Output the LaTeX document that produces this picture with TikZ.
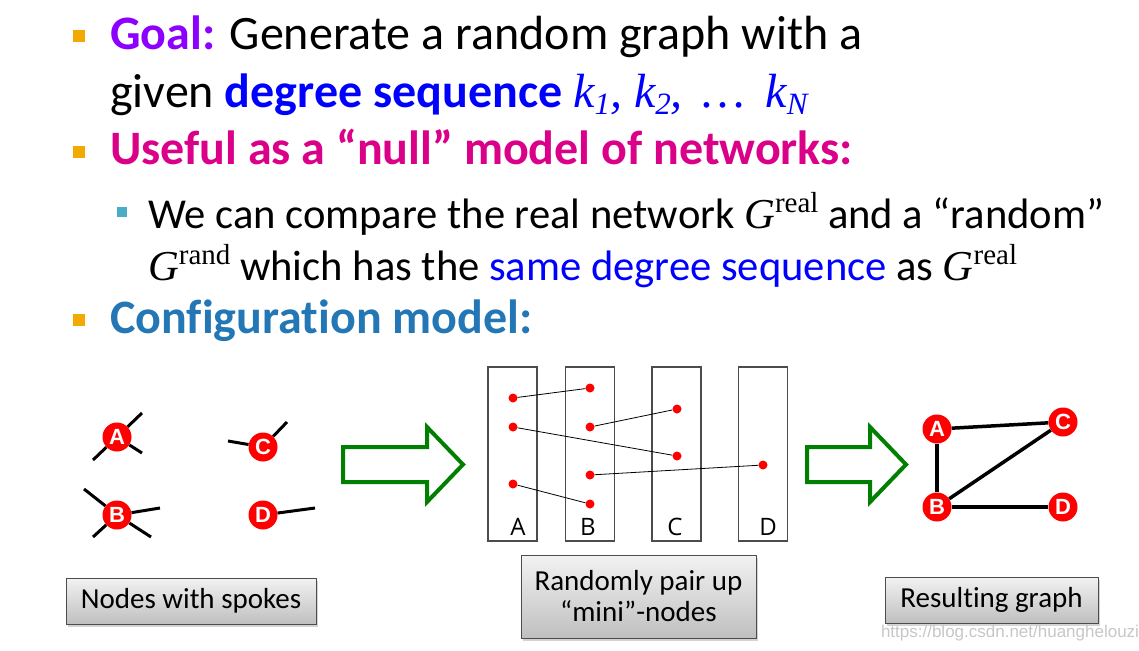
\documentclass[tikz,border=0pt]{standalone}
\usepackage{fontspec}
\setmainfont{Carlito}[Ligatures=NoCommon]
\newfontfamily\serifk{Liberation Serif}
\newfontfamily\slotfont{Open Sans}
\newfontfamily\letterfont{Liberation Sans}
\usepackage{tikz}
\usetikzlibrary{shadows}
\definecolor{goalpurple}{HTML}{8B00FF}
\definecolor{nullmagenta}{HTML}{DA0088}
\definecolor{confblue}{HTML}{2477B5}
\definecolor{seqblue}{HTML}{0000FF}
\definecolor{bulletorange}{HTML}{F2A900}
\definecolor{bulletteal}{HTML}{4BACC6}
\definecolor{arrowgreen}{HTML}{007F00}
\definecolor{nodered}{HTML}{FF0000}
\newcommand{\kidx}[1]{\raisebox{-0.35ex}{\fontsize{31}{31}\selectfont #1}}
\newcommand{\bigtext}{\fontsize{48}{58}\selectfont}
\newcommand{\subtext}{\fontsize{42.6}{50}\selectfont}
\newcommand{\graph}[1]{{\serifk\itshape G}\raisebox{0.75ex}{\serifk\fontsize{29}{29}\selectfont #1}}

\begin{document}
\begin{tikzpicture}[x=1pt,y=-1pt,
      bulletsq/.style={fill=bulletorange,minimum size=12pt,inner sep=0pt},
      subbullet/.style={fill=bulletteal,minimum size=10pt,inner sep=0pt},
      line/.style={anchor=base west,inner sep=0pt},
      vtx/.style={circle,fill=nodered,minimum size=29pt,inner sep=0pt,text=white,font=\letterfont\fontsize{22}{22}\selectfont\bfseries},
      spoke/.style={line width=3pt},
      slot/.style={draw=black!70,line width=1.2pt,minimum width=49pt,minimum height=174pt,inner sep=0pt},
      slotlabel/.style={font=\slotfont\fontsize{24}{24}\selectfont},
      stub/.style={circle,fill=nodered,minimum size=9pt,inner sep=0pt},
      pairline/.style={line width=0.8pt},
      edge/.style={line width=3.5pt},
      hollowarrow/.style={draw=arrowgreen,line width=4pt,miter limit=10},
      caption/.style={draw=black!70,line width=1pt,top color=black!5,bottom color=black!25,
        drop shadow={shadow xshift=2pt,shadow yshift=-3pt,opacity=0.35},
        font=\fontsize{29}{31}\selectfont,align=center,inner sep=0pt}]
    \useasboundingbox (0,0) rectangle (1139,650);
    % bullet text
    \node[bulletsq] (b1) at (79,36) {};
    \node[line] (l1) at (110,50) {\bigtext{\color{goalpurple}\bfseries Goal:} Generate a random graph with a};
    \node[line] (l2) at (110,107) {\bigtext given {\color{seqblue}\bfseries degree sequence} {\color{seqblue}\serifk\itshape k\kidx{1}, k\kidx{2}, \,…\, k\kidx{N}}};
    \node[bulletsq] (b2) at (79,152) {};
    \node[line] (l3) at (110,164) {\bigtext\color{nullmagenta}\bfseries Useful as a “null” model of networks:};
    \node[subbullet] (b3) at (122,212) {};
    \node[line] (l4) at (148,228) {\subtext We can compare the real network \graph{real} and a “random”};
    \node[line] (l5) at (148,280) {\subtext \graph{rand} which has the {\color{seqblue}same degree sequence} as \graph{real}};
    \node[bulletsq] (b4) at (79,320) {};
    \node[line] (l6) at (110,333) {\bigtext\color{confblue}\bfseries Configuration model:};
    % nodes with spokes
    \node[vtx] (sA) at (117,437) {A};
    \node[vtx] (sB) at (117,515) {B};
    \node[vtx] (sC) at (263,447) {C};
    \node[vtx] (sD) at (263,515) {D};
    \coordinate (eA1) at (93,460); \coordinate (eA2) at (142,413); \coordinate (eA3) at (142,453);
    \coordinate (eB1) at (84,489); \coordinate (eB2) at (160,508); \coordinate (eB3) at (93,537); \coordinate (eB4) at (151,537);
    \coordinate (eC1) at (228,441); \coordinate (eC2) at (287,422);
    \coordinate (eD1) at (315,508);
    \draw[spoke] (sA) -- (eA1); \draw[spoke] (sA) -- (eA2); \draw[spoke] (sA) -- (eA3);
    \draw[spoke] (sB) -- (eB1); \draw[spoke] (sB) -- (eB2); \draw[spoke] (sB) -- (eB3); \draw[spoke] (sB) -- (eB4);
    \draw[spoke] (sC) -- (eC1); \draw[spoke] (sC) -- (eC2);
    \draw[spoke] (sD) -- (eD1);
    % arrows
    \draw[hollowarrow] (343,447) -- (427,447) -- (427,427) -- (463,464.5) -- (427,502) -- (427,482) -- (343,482) -- cycle;
    \draw[hollowarrow] (807,447) -- (870,447) -- (870,427) -- (906,464.5) -- (870,502) -- (870,482) -- (807,482) -- cycle;
    % mini-nodes
    \node[slot] (boxA) at (512.5,454) {};
    \node[slot] (boxB) at (590,454) {};
    \node[slot] (boxC) at (676.5,454) {};
    \node[slot] (boxD) at (763,454) {};
    \node[slotlabel] (labA) at (518,527) {A};
    \node[slotlabel] (labB) at (588,527) {B};
    \node[slotlabel] (labC) at (675,527) {C};
    \node[slotlabel] (labD) at (768,527) {D};
    \node[stub] (a1) at (513,398) {}; \node[stub] (a2) at (513,427) {}; \node[stub] (a3) at (513,484) {};
    \node[stub] (m1) at (590,388) {}; \node[stub] (m2) at (590,427) {}; \node[stub] (m3) at (590,475) {}; \node[stub] (m4) at (590,504) {};
    \node[stub] (c1) at (677,409) {}; \node[stub] (c2) at (677,456) {};
    \node[stub] (d1) at (763,465) {};
    \draw[pairline] (a1) -- (m1);
    \draw[pairline] (a2) -- (c2);
    \draw[pairline] (a3) -- (m4);
    \draw[pairline] (m2) -- (c1);
    \draw[pairline] (m3) -- (d1);
    % resulting graph
    \node[vtx] (gA) at (937,429) {A};
    \node[vtx] (gC) at (1063,422) {C};
    \node[vtx] (gB) at (937,507) {B};
    \node[vtx] (gD) at (1063,507) {D};
    \draw[edge] (gA) -- (gC);
    \draw[edge] (gA) -- (gB);
    \draw[edge] (gB) -- (gC);
    \draw[edge] (gB) -- (gD);
    % captions
    \node[caption,minimum width=250pt,minimum height=46pt] (cap1) at (191,601) {Nodes with spokes};
    \node[caption,minimum width=235pt,minimum height=83pt] (cap2) at (638.5,596.5) {Randomly pair up\\“mini”-nodes};
    \node[caption,minimum width=213pt,minimum height=46pt] (cap3) at (991.5,600) {Resulting graph};
    \node[text=black!22,font=\letterfont\fontsize{17}{17}\selectfont] (mark) at (1010,633) {https://blog.csdn.net/huanghelouzi};
\end{tikzpicture}
\end{document}
